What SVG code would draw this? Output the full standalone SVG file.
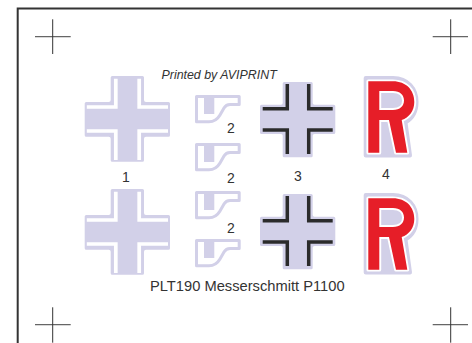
<svg xmlns="http://www.w3.org/2000/svg" width="472" height="343" viewBox="0 0 472 343">
<style>
text{font-family:"Liberation Sans",Arial,sans-serif;fill:#333;font-size:14px}
.l{fill:#d2d0e8}
.o{stroke:#d2d0e8;stroke-width:3;stroke-linejoin:round}
.wl{stroke:#fff;stroke-width:3.7;fill:none}
.k{stroke:#2b2b2b;stroke-width:3.5;fill:none}
.h{stroke:#666;stroke-width:1.200;fill:none}
.v{stroke:#333;stroke-width:1;fill:none}
</style>
<defs>
<g id="c1">
<path class="l o" d="M112.200 77.500H142.500V100Q142.500 103.500 146 103.500H168.500V135.200H146Q142.500 135.200 142.500 138.700V160.200H112.200V138.700Q112.200 135.200 108.700 135.200H86.200V103.500H108.700Q112.200 103.500 112.200 100Z"/>
<path class="wl" d="M115.800 78.700V107H86.800M139.200 78.700V107H168M115.800 160V131H86.800M139.200 160V131H168"/>
</g>
<g id="c2">
<path fill="#fff" class="o" d="M196.500 96.500H239.200V104.500H230Q226 104.500 224 108L220 115Q216 121.800 209 121.800H196.500Z"/>
<path class="l" d="M204 96.500H214.300V114H204Z"/>
</g>
<g id="c3">
<path class="l" stroke="#d2d0e8" stroke-width="3" stroke-linejoin="round" d="M284.200 83.500H311.200V103Q311.200 106.200 314.500 106.200H333.800V132.500H314.500Q311.200 132.500 311.200 135.800V155.800H284.200V135.800Q284.200 132.500 281 132.500H261.500V106.200H281Q284.200 106.200 284.200 103Z"/>
<path class="k" d="M287.300 84V108.700H262.700M308.700 84V108.700H332.700M287.300 154V130H262.700M308.700 154V130H332.700"/>
</g>
<g id="c4">
<path class="l" stroke="#d2d0e8" stroke-width="4" stroke-linejoin="round" d="M365.700 78H393C408 78 416.500 89 416.500 102C416.500 112 411.500 119 405.500 122.500L410 155.500H365.700Z"/>
<path fill="#e61e28" fill-rule="evenodd" stroke="#fff" stroke-width="3.800" paint-order="stroke" stroke-linejoin="round" d="M368.300 81.300H393C406 81.300 414.300 90 414.300 102C414.300 111 409 117.500 401.700 120L407.300 152.700H396L389 120H379.300V152.700H368.300ZM379.300 91V110H393C400 110 404 106 404 100.500C404 95 400 91 393 91Z"/>
</g>
</defs>
<path d="M17.700 344V8.500H473" fill="none" stroke="#333" stroke-width="2"/>
<g id="marks">
<path class="h" d="M35 36.700H70.700M432.700 36.700H468M35 324.700H70.700M432.700 324.700H468"/>
<path class="v" d="M52.700 19.300V54M450.700 19.300V54M52.700 307.300V342.700M450.700 307.300V342.700"/>
</g>
<g id="cross-1a"><use href="#c1"/></g>
<g id="cross-1b"><use href="#c1" y="113"/></g>
<g id="tail-2a"><use href="#c2"/></g>
<g id="tail-2b"><use href="#c2" y="48"/></g>
<g id="tail-2c"><use href="#c2" y="96"/></g>
<g id="tail-2d"><use href="#c2" y="144"/></g>
<g id="cross-3a"><use href="#c3"/></g>
<g id="cross-3b"><use href="#c3" y="112"/></g>
<g id="r-4a"><use href="#c4"/></g>
<g id="r-4b"><use href="#c4" y="117"/></g>
<g id="labels">
<text x="161.500" y="79.300" font-style="italic" style="font-size:12.400px">Printed by AVIPRINT</text>
<text x="122" y="181.500">1</text>
<text x="227" y="133.300">2</text>
<text x="227" y="182.700">2</text>
<text x="227" y="232.700">2</text>
<text x="294" y="180.500">3</text>
<text x="382" y="179.300">4</text>
<text x="150" y="290.700" style="font-size:14.700px">PLT190 Messerschmitt P1100</text>
</g>
</svg>
